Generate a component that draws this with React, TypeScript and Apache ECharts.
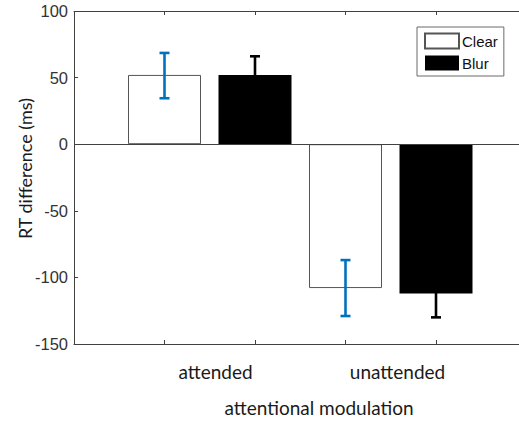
import React, { useEffect, useRef } from "react";
import * as echarts from "echarts";

const conditions = ["attended", "unattended"];
const seriesNames = ["Clear", "Blur"];
const clearPos = [1, 3];
const blurPos = [2, 4];
const clearValues = [52, -108];
const blurValues = [52, -112];
const clearErrLow = [34.5, -129];
const clearErrHigh = [68.5, -87];
const blurErrLow = [38, -130];
const blurErrHigh = [66, -94];
const yTicks = [-150, -100, -50, 0, 50, 100];

export default function App() {
  const ref = useRef<HTMLDivElement>(null);
  useEffect(() => {
    if (!ref.current) return;
    const chart = echarts.init(ref.current, null, { renderer: "svg" });
    const axisColor = "#404040";
    const errItem = (color: string) => (params: any, api: any) => {
      const x = api.value(0);
      const lo = api.coord([x, api.value(1)]);
      const hi = api.coord([x, api.value(2)]);
      const cap = 5;
      const style = { stroke: color, lineWidth: 2.6 };
      return {
        type: "group",
        children: [
          { type: "line", shape: { x1: lo[0], y1: lo[1], x2: hi[0], y2: hi[1] }, style },
          { type: "line", shape: { x1: lo[0] - cap, y1: lo[1], x2: lo[0] + cap, y2: lo[1] }, style },
          { type: "line", shape: { x1: hi[0] - cap, y1: hi[1], x2: hi[0] + cap, y2: hi[1] }, style },
        ],
      };
    };
    const option: any = {
      animation: false,
      backgroundColor: "#fff",
      grid: { left: 74, top: 11, width: 452.5, height: 333, containLabel: false, outerBoundsMode: "none" },
      legend: {
        data: seriesNames,
        orient: "vertical",
        left: 417,
        top: 27,
        itemWidth: 34,
        itemHeight: 15,
        itemGap: 6,
        icon: "rect",
        borderColor: "#6a6a6a",
        borderWidth: 1,
        borderRadius: 0,
        backgroundColor: "#fff",
        padding: [5.5, 6, 5.5, 7],
        textStyle: {
          fontFamily: "Liberation Sans, Arial",
          fontSize: 15,
          lineHeight: 15,
          color: "#111",
          padding: [0, 0, 0, -2],
        },
      },
      xAxis: [
        {
          type: "value",
          min: 0,
          max: 5,
          interval: 1,
          position: "bottom",
          axisLine: { onZero: false, lineStyle: { color: axisColor, width: 1 } },
          axisTick: { inside: true, length: 4, customValues: [1, 2, 3, 4], lineStyle: { color: axisColor } },
          splitLine: { show: false },
          axisLabel: {
            customValues: [1.5635, 3.575],
            formatter: (v: number) => (v < 2.5 ? conditions[0] : conditions[1]),
            fontFamily: "Lato",
            fontSize: 19,
            color: "#1a1a1a",
            margin: 18,
          },
        },
        {
          type: "value",
          min: 0,
          max: 5,
          interval: 1,
          position: "top",
          axisLine: { show: true, onZero: false, lineStyle: { color: axisColor, width: 1 } },
          axisTick: { inside: true, length: 4, customValues: [1, 2, 3, 4], lineStyle: { color: axisColor } },
          splitLine: { show: false },
          axisLabel: { show: false },
        },
      ],
      yAxis: {
        type: "value",
        min: -150,
        max: 100,
        interval: 50,
        axisLine: { show: false, onZero: false },
        axisTick: { show: true, inside: true, length: 4, lineStyle: { color: axisColor } },
        splitLine: { show: false },
        axisLabel: {
          fontFamily: "Liberation Sans, Arial",
          fontSize: 16.5,
          color: "#333",
          margin: 6,
          formatter: (v: number) => (yTicks.includes(v) ? String(v) : ""),
        },
      },
      graphic: [
        {
          type: "text",
          x: 24.5,
          y: 168.5,
          rotation: Math.PI / 2,
          style: {
            text: "RT difference (ms)",
            fontFamily: "Lato",
            fontSize: 18,
            fill: "#1a1a1a",
            textAlign: "center",
            textVerticalAlign: "middle",
          },
        },
        {
          type: "text",
          x: 319,
          y: 407,
          style: {
            text: "attentional modulation",
            fontFamily: "Lato",
            fontSize: 19,
            fill: "#1a1a1a",
            textAlign: "center",
            textVerticalAlign: "middle",
          },
        },
      ],
      series: [
        {
          name: seriesNames[0],
          type: "bar",
          barWidth: 73,
          barGap: "-100%",
          data: clearPos.map((x, i) => [x, clearValues[i]]),
          itemStyle: { color: "#ffffff", borderColor: "#555", borderWidth: 1 },
          markLine: {
            silent: true,
            symbol: "none",
            label: { show: false },
            lineStyle: { color: axisColor, width: 1, type: "solid" },
            data: [{ yAxis: 0 }, { xAxis: 0 }],
          },
        },
        {
          name: seriesNames[1],
          type: "bar",
          barWidth: 73,
          barGap: "-100%",
          data: blurPos.map((x, i) => [x, blurValues[i]]),
          itemStyle: { color: "#000000", borderColor: "#000", borderWidth: 0 },
        },
        {
          type: "custom",
          renderItem: errItem("#0072BD"),
          data: clearPos.map((x, i) => [x, clearErrLow[i], clearErrHigh[i]]),
          z: 10,
        },
        {
          type: "custom",
          renderItem: errItem("#000000"),
          data: blurPos.map((x, i) => [x, blurErrLow[i], blurErrHigh[i]]),
          z: 10,
        },
      ],
    };
    chart.setOption(option);
    return () => chart.dispose();
  }, []);
  return (
    <div style={{ position: "fixed", left: 0, top: 0, width: 519, height: 421, overflow: "hidden", background: "#fff" }}>
      <div ref={ref} style={{ width: 560, height: 421 }} />
    </div>
  );
}
